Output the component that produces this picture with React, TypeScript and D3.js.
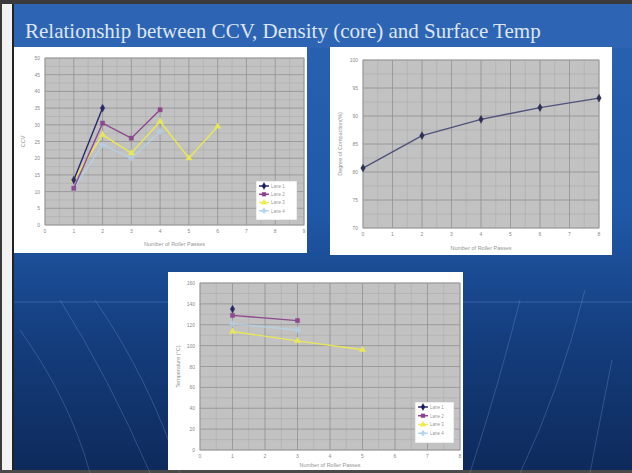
import React from "react";
import * as d3 from "d3";

// ---------- data ----------
const slideTitle = "Relationship between CCV, Density (core) and Surface Temp";
const xAxisTitle = "Number of Roller Passes";
const seriesNames = ["Lane 1", "Lane 2", "Lane 3", "Lane 4"];

// Chart 1: CCV
const ccvTicksX = [0, 1, 2, 3, 4, 5, 6, 7, 8, 9];
const ccvTicksY = [0, 5, 10, 15, 20, 25, 30, 35, 40, 45, 50];
const ccvPasses1 = [1, 2];
const ccvValues1 = [13.5, 35];
const ccvPasses2 = [1, 2, 3, 4];
const ccvValues2 = [11, 30.5, 26, 34.5];
const ccvPasses3 = [1, 2, 3, 4, 5, 6];
const ccvValues3 = [13.5, 27, 21.5, 31, 20, 29.5];
const ccvPasses4 = [1, 2, 3, 4];
const ccvValues4 = [11, 24, 20, 28];

// Chart 2: density
const denTicksX = [0, 1, 2, 3, 4, 5, 6, 7, 8];
const denTicksY = [70, 75, 80, 85, 90, 95, 100];
const denPasses = [0, 2, 4, 6, 8];
const denValues = [80.7, 86.5, 89.4, 91.5, 93.2];

// Chart 3: surface temperature
const tmpTicksX = [0, 1, 2, 3, 4, 5, 6, 7, 8];
const tmpTicksY = [0, 20, 40, 60, 80, 100, 120, 140, 160];
const tmpPasses1 = [1];
const tmpValues1 = [135];
const tmpPasses2 = [1, 3];
const tmpValues2 = [129, 124];
const tmpPasses3 = [1, 3, 5];
const tmpValues3 = [113.5, 104.5, 96];
const tmpPasses4 = [1, 3];
const tmpValues4 = [121, 115];

const seriesColors = ["#1c1c66", "#8a3f8c", "#eeec50", "#b4d5ee"];
const markerShapes = [d3.symbolDiamond, d3.symbolSquare, d3.symbolTriangle, d3.symbolCross];

type Series = { xs: number[]; ys: number[]; color: string; shape: any; marker: string; opacity: number };

function Marker({ x, y, shape, color, size }: any) {
  const p = d3.symbol().type(shape).size(size)();
  return <path d={p || ""} transform={`translate(${x},${y})`} fill={color} stroke={color} strokeWidth={0.4} />;
}

function Chart(props: {
  box: [number, number, number, number];
  plot: [number, number, number, number];
  xDomain: [number, number];
  yDomain: [number, number];
  ticksX: number[];
  ticksY: number[];
  series: Series[];
  yTitle: string;
  yTitleX: number;
  xTitleY: number;
  legend?: { x: number; y: number; w: number; h: number };
}) {
  const { box, plot, xDomain, yDomain, ticksX, ticksY, series, legend } = props;
  const [bx, by, bw, bh] = box;
  const [px0, py0, px1, py1] = plot;
  const x = d3.scaleLinear().domain(xDomain).range([px0, px1]);
  const y = d3.scaleLinear().domain(yDomain).range([py1, py0]);
  const stepX = ticksX[1] - ticksX[0];
  const stepY = ticksY[1] - ticksY[0];
  const minorX = ticksX.slice(0, -1).map((t) => t + stepX / 2);
  const minorY = ticksY.slice(0, -1).map((t) => t + stepY / 2);
  const line = d3
    .line<[number, number]>()
    .x((d) => x(d[0]))
    .y((d) => y(d[1]));
  const font = "Arial, Liberation Sans, sans-serif";
  return (
    <g>
      <rect x={bx} y={by} width={bw} height={bh} fill="#ffffff" />
      <rect x={px0} y={py0} width={px1 - px0} height={py1 - py0} fill="#c2c2c2" />
      {minorX.map((t) => (
        <line key={"mx" + t} x1={x(t)} x2={x(t)} y1={py0} y2={py1} stroke="#adadad" strokeWidth={0.6} />
      ))}
      {minorY.map((t) => (
        <line key={"my" + t} y1={y(t)} y2={y(t)} x1={px0} x2={px1} stroke="#adadad" strokeWidth={0.6} />
      ))}
      {ticksX.map((t) => (
        <line key={"gx" + t} x1={x(t)} x2={x(t)} y1={py0} y2={py1} stroke="#909090" strokeWidth={0.8} />
      ))}
      {ticksY.map((t) => (
        <line key={"gy" + t} y1={y(t)} y2={y(t)} x1={px0} x2={px1} stroke="#909090" strokeWidth={0.8} />
      ))}
      <rect x={px0} y={py0} width={px1 - px0} height={py1 - py0} fill="none" stroke="#a0a0a0" strokeWidth={0.8} />
      {ticksX.map((t) => (
        <text key={"tx" + t} x={x(t)} y={py1 + 8} fontSize={5} fill="#8a8a8a" textAnchor="middle" fontFamily={font}>
          {t}
        </text>
      ))}
      {ticksY.map((t) => (
        <text key={"ty" + t} x={px0 - 5} y={y(t) + 2} fontSize={5} fill="#8a8a8a" textAnchor="end" fontFamily={font}>
          {t}
        </text>
      ))}
      <text x={(px0 + px1) / 2} y={props.xTitleY} fontSize={5.5} fill="#959595" textAnchor="middle" fontFamily={font}>
        {xAxisTitle}
      </text>
      <text
        transform={`translate(${props.yTitleX},${(py0 + py1) / 2}) rotate(-90)`}
        fontSize={5.5}
        fill="#959595"
        textAnchor="middle"
        fontFamily={font}
      >
        {props.yTitle}
      </text>
      {series.map((s, i) => {
        const pts = s.xs.map((v, j) => [v, s.ys[j]] as [number, number]);
        return (
          <g key={"s" + i} opacity={s.opacity}>
            <path d={line(pts) || ""} fill="none" stroke={s.color} strokeWidth={1.4} />
            {pts.map((p, j) => (
              <Marker key={j} x={x(p[0])} y={y(p[1])} shape={s.shape} color={s.marker} size={18} />
            ))}
          </g>
        );
      })}
      {legend && (
        <g>
          <rect x={legend.x} y={legend.y} width={legend.w} height={legend.h} fill="#ffffff" stroke="#c4c4c4" strokeWidth={0.6} />
          {seriesColors.map((c, i) => {
            const ly = legend.y + 5 + i * ((legend.h - 6) / 4);
            return (
              <g key={"lg" + i}>
                <line x1={legend.x + 3} x2={legend.x + 13} y1={ly} y2={ly} stroke={c} strokeWidth={1.4} />
                <Marker x={legend.x + 8} y={ly} shape={markerShapes[i]} color={c} size={14} />
                <text x={legend.x + 15} y={ly + 1.8} fontSize={4.5} fill="#999" fontFamily={font}>
                  {seriesNames[i]}
                </text>
              </g>
            );
          })}
        </g>
      )}
    </g>
  );
}

export default function App() {
  const W = 632;
  const H = 473;
  const mk = (xs: number[], ys: number[], i: number): Series => ({
    xs,
    ys,
    color: seriesColors[i],
    shape: markerShapes[i],
    marker: seriesColors[i],
    opacity: i === 3 ? 0.75 : 0.92,
  });
  const arcs = [
    "M 60 300 Q 110 380 150 473",
    "M 95 300 Q 150 380 180 473",
    "M 20 330 Q 70 400 90 473",
    "M 520 300 Q 500 380 470 473",
    "M 585 290 Q 560 390 520 473",
    "M 612 360 Q 600 420 590 473",
  ];
  return (
    <svg width={W} height={H} style={{ position: "absolute", left: 0, top: 0 }}>
      <defs>
        <linearGradient id="slideBg" x1="0" y1="0" x2="0" y2="1">
          <stop offset="0" stopColor="#2a63b2" />
          <stop offset="0.45" stopColor="#1f58a6" />
          <stop offset="0.7" stopColor="#153f80" />
          <stop offset="1" stopColor="#0e2a5b" />
        </linearGradient>
      </defs>
      <rect x={0} y={0} width={W} height={H} fill="#f2f2f2" />
      <rect x={0} y={0} width={W} height={4} fill="#3a3a3a" />
      <rect x={0} y={0} width={2} height={H} fill="#3a3a3a" />
      <rect x={0} y={470} width={W} height={3} fill="#4a4a4a" />
      <rect x={12} y={4} width={W - 12} height={466} fill="url(#slideBg)" />
      <rect x={12} y={4} width={W - 12} height={44} fill="#2d65b4" />
      <line x1={13} x2={13} y1={4} y2={470} stroke="#222" strokeWidth={2} />
      <line x1={14} x2={W} y1={302} y2={302} stroke="#4d78b8" strokeWidth={1.2} opacity={0.6} />
      {arcs.map((d, i) => (
        <path key={i} d={d} fill="none" stroke="#6f93c8" strokeWidth={1} opacity={0.35} />
      ))}
      <text x={25} y={38} fontSize={21} fill="#dde6f3" fontFamily="Liberation Serif, Times New Roman, serif">
        {slideTitle}
      </text>

      <Chart
        box={[14, 47, 293, 206]}
        plot={[45, 58, 304, 225]}
        xDomain={[0, 9]}
        yDomain={[0, 50]}
        ticksX={ccvTicksX}
        ticksY={ccvTicksY}
        series={[
          mk(ccvPasses4, ccvValues4, 3),
          mk(ccvPasses3, ccvValues3, 2),
          mk(ccvPasses2, ccvValues2, 1),
          mk(ccvPasses1, ccvValues1, 0),
        ]}
        yTitle="CCV"
        yTitleX={25}
        xTitleY={246}
        legend={{ x: 256, y: 181, w: 41, h: 39 }}
      />

      <Chart
        box={[330, 47, 282, 208]}
        plot={[363, 60, 599, 228]}
        xDomain={[0, 8]}
        yDomain={[70, 100]}
        ticksX={denTicksX}
        ticksY={denTicksY}
        series={[
          { xs: denPasses, ys: denValues, color: "#4a4d78", shape: d3.symbolDiamond, marker: "#262850", opacity: 0.95 },
        ]}
        yTitle="Degree of Compaction(%)"
        yTitleX={342}
        xTitleY={250}
      />

      <Chart
        box={[168, 272, 295, 198]}
        plot={[200, 283, 460, 450]}
        xDomain={[0, 8]}
        yDomain={[0, 160]}
        ticksX={tmpTicksX}
        ticksY={tmpTicksY}
        series={[
          mk(tmpPasses4, tmpValues4, 3),
          mk(tmpPasses3, tmpValues3, 2),
          mk(tmpPasses2, tmpValues2, 1),
          mk(tmpPasses1, tmpValues1, 0),
        ]}
        yTitle="Temperature (°C)"
        yTitleX={180}
        xTitleY={467}
        legend={{ x: 415, y: 402, w: 39, h: 41 }}
      />
    </svg>
  );
}
